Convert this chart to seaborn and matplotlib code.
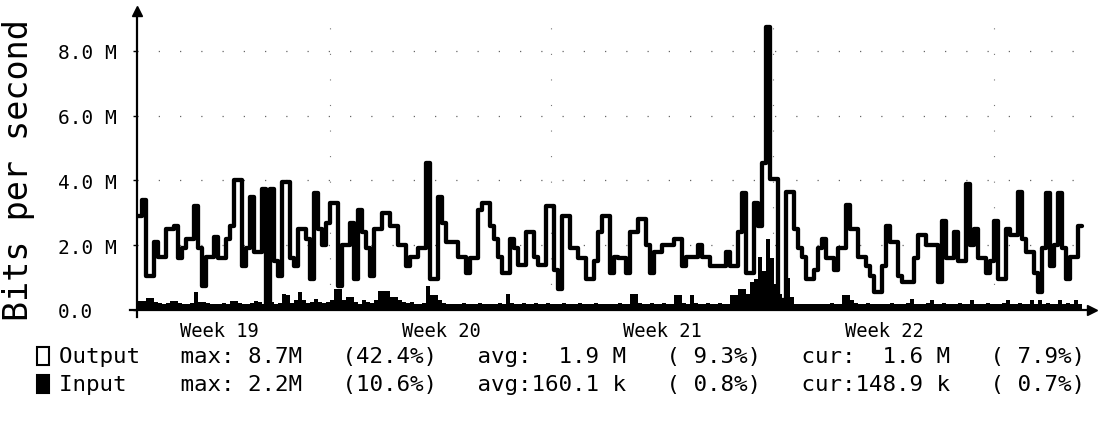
import numpy as np
import pandas as pd
import matplotlib
matplotlib.use("Agg")
import matplotlib.pyplot as plt
import seaborn as sns
from matplotlib.patches import Rectangle

# ---------------- data (Mbit/s, one value per sample) ----------------
output_mbps = [
    2.9, 3.4, 1.05, 1.05, 2.1, 1.65, 1.65, 2.5, 2.5, 2.6,
    1.6, 1.9, 2.2, 2.2, 3.2, 1.9, 0.75, 1.65, 1.65, 2.25,
    1.6, 1.6, 2.2, 2.6, 4.0, 4.0, 1.35, 1.9, 3.5, 1.8,
    1.8, 3.75, 0.2, 3.75, 1.5, 1.05, 3.95, 3.95, 1.6, 1.35,
    2.5, 2.5, 2.2, 0.95, 3.6, 2.5, 2.0, 2.7, 3.3, 3.3,
    0.75, 2.0, 2.0, 2.7, 0.95, 3.1, 2.4, 1.9, 1.05, 2.5,
    2.5, 3.0, 3.0, 2.6, 2.6, 2.0, 2.0, 1.35, 1.65, 1.65,
    1.9, 1.9, 4.55, 0.95, 0.95, 3.5, 2.7, 2.1, 2.1, 2.1,
    1.65, 1.65, 1.15, 1.6, 1.6, 3.1, 3.3, 3.3, 2.6, 2.2,
    1.65, 1.15, 1.15, 2.2, 1.9, 1.4, 1.4, 2.4, 2.4, 1.65,
    1.4, 1.4, 3.2, 3.2, 1.25, 0.65, 2.9, 2.9, 1.9, 1.9,
    1.6, 1.6, 0.95, 0.95, 1.5, 2.4, 2.9, 2.9, 1.15, 1.65,
    1.6, 1.6, 1.15, 2.4, 2.4, 2.8, 2.8, 2.0, 1.15, 1.8,
    1.8, 2.0, 2.0, 2.0, 2.2, 2.2, 1.35, 1.65, 1.65, 1.65,
    2.0, 1.65, 1.65, 1.35, 1.35, 1.35, 1.35, 1.8, 1.35, 1.35,
    2.4, 3.6, 1.15, 1.15, 3.3, 2.6, 4.55, 8.75, 4.05, 4.05,
    0.3, 0.3, 3.65, 3.65, 2.5, 1.9, 1.65, 0.95, 0.95, 1.25,
    1.9, 2.2, 1.6, 1.6, 1.25, 1.9, 1.9, 3.25, 2.5, 2.5,
    1.65, 1.65, 1.35, 1.05, 0.55, 0.55, 1.35, 2.6, 2.1, 2.1,
    1.05, 0.85, 0.85, 0.85, 1.6, 2.3, 2.3, 2.0, 2.0, 2.0,
    0.85, 2.75, 1.6, 1.6, 2.4, 1.5, 1.5, 3.9, 2.0, 2.5,
    1.6, 1.6, 1.15, 1.5, 2.75, 0.95, 0.95, 2.5, 2.3, 2.3,
    3.65, 2.2, 1.8, 1.8, 1.15, 0.55, 1.9, 3.6, 1.35, 2.0,
    3.6, 1.9, 0.95, 1.65, 1.65, 2.6,
]

input_mbps = [
    0.28, 0.28, 0.37, 0.37, 0.25, 0.22, 0.2, 0.22, 0.28, 0.28,
    0.22, 0.2, 0.2, 0.22, 0.55, 0.25, 0.25, 0.22, 0.2, 0.2,
    0.2, 0.22, 0.2, 0.28, 0.28, 0.22, 0.2, 0.2, 0.22, 0.28,
    0.25, 0.2, 0.35, 0.25, 0.2, 0.22, 0.5, 0.45, 0.22, 0.3,
    0.55, 0.3, 0.22, 0.25, 0.35, 0.25, 0.22, 0.25, 0.3, 0.65,
    0.65, 0.3, 0.4, 0.4, 0.25, 0.2, 0.3, 0.25, 0.22, 0.3,
    0.6, 0.6, 0.6, 0.4, 0.4, 0.3, 0.25, 0.22, 0.25, 0.2,
    0.2, 0.22, 0.75, 0.45, 0.45, 0.3, 0.22, 0.2, 0.2, 0.2,
    0.2, 0.22, 0.2, 0.2, 0.2, 0.22, 0.2, 0.2, 0.2, 0.2,
    0.22, 0.2, 0.5, 0.22, 0.2, 0.2, 0.22, 0.2, 0.2, 0.22,
    0.2, 0.2, 0.22, 0.2, 0.2, 0.2, 0.22, 0.2, 0.2, 0.2,
    0.22, 0.2, 0.2, 0.2, 0.22, 0.2, 0.2, 0.2, 0.2, 0.2,
    0.22, 0.2, 0.2, 0.5, 0.5, 0.22, 0.2, 0.2, 0.22, 0.2,
    0.2, 0.22, 0.2, 0.2, 0.45, 0.45, 0.22, 0.2, 0.45, 0.22,
    0.2, 0.2, 0.22, 0.2, 0.2, 0.22, 0.2, 0.2, 0.45, 0.45,
    0.65, 0.65, 0.5, 0.85, 0.95, 1.65, 1.2, 2.2, 1.6, 0.8,
    0.5, 0.3, 1.0, 0.4, 0.2, 0.2, 0.2, 0.2, 0.2, 0.2,
    0.2, 0.2, 0.2, 0.22, 0.2, 0.2, 0.45, 0.45, 0.3, 0.22,
    0.2, 0.2, 0.22, 0.2, 0.2, 0.2, 0.2, 0.2, 0.22, 0.2,
    0.2, 0.2, 0.22, 0.35, 0.2, 0.2, 0.2, 0.22, 0.3, 0.2,
    0.2, 0.22, 0.2, 0.2, 0.2, 0.22, 0.2, 0.2, 0.3, 0.2,
    0.2, 0.2, 0.22, 0.2, 0.2, 0.2, 0.22, 0.3, 0.2, 0.2,
    0.22, 0.2, 0.2, 0.3, 0.2, 0.3, 0.2, 0.22, 0.2, 0.2,
    0.3, 0.2, 0.22, 0.2, 0.3, 0.2,
]

y_ticks = [0, 2, 4, 6, 8]
y_tick_labels = ["0.0", "2.0 M", "4.0 M", "6.0 M", "8.0 M"]
week_labels = ["Week 19", "Week 20", "Week 21", "Week 22"]
week_centers = [20.25, 75.75, 131.0, 186.5]      # sample index of label centre
week_bounds = [48.0, 103.25, 158.75, 214.0]      # dotted separators

legend_output = "Output   max: 8.7M   (42.4%)   avg:  1.9 M   ( 9.3%)   cur:  1.6 M   ( 7.9%)"
legend_input = "Input    max: 2.2M   (10.6%)   avg:160.1 k   ( 0.8%)   cur:148.9 k   ( 0.7%)"

# ---------------- figure ----------------
sns.set_theme(style="white")
plt.rcParams["font.family"] = ["DejaVu Sans Mono"]

W, H = 1104, 435
fig = plt.figure(figsize=(W / 100, H / 100), dpi=100)
fig.patch.set_facecolor("white")
left, right, bottom, top = 137, 1092, 311, 12
ax = fig.add_axes([left / W, 1 - bottom / H, (right - left) / W, (bottom - top) / H])
ax.set_facecolor("white")

n = len(output_mbps)
df = pd.DataFrame({
    "sample": np.arange(n + 1),
    "output": output_mbps + [output_mbps[-1]],
    "input": input_mbps + [input_mbps[-1]],
})

ax.fill_between(df["sample"], 0, df["input"], step="post", color="black", lw=0, zorder=2)
sns.lineplot(data=df, x="sample", y="output", drawstyle="steps-post",
             color="black", lw=3.1, ax=ax, zorder=3)

ax.set_xlim(-0.25, 238.5)
ax.set_ylim(0, 9.23)

# grid: sparse dotted
for yv in y_ticks[1:]:
    ax.axhline(yv, color="#666666", lw=0.9, ls=(0, (1, 16)), zorder=1)
for xv in week_bounds:
    ax.axvline(xv, color="#777777", lw=0.8, ls=(0, (1, 22)), zorder=1)

ax.set_yticks(y_ticks)
ax.set_yticklabels(y_tick_labels, fontsize=14)
for lbl in ax.get_yticklabels():
    lbl.set_horizontalalignment("left")
ax.set_xticks(week_centers)
ax.set_xticklabels(week_labels, fontsize=13.5)
ax.tick_params(axis="y", length=3, width=1, colors="black", pad=54, left=True)
ax.tick_params(axis="x", length=0, pad=8, colors="black")
ax.set_xlabel("")
ax.set_ylabel("")

for s in ["top", "right"]:
    ax.spines[s].set_visible(False)
for s in ["left", "bottom"]:
    ax.spines[s].set_color("black")
    ax.spines[s].set_linewidth(1.6)
ax.spines["left"].set_bounds(-0.22, 9.23)
ax.spines["bottom"].set_bounds(-2.0, 238.5)

# axis arrows
ax.plot([0], [1], marker="^", color="black", markersize=7, transform=ax.transAxes, clip_on=False, zorder=5)
ax.plot([1], [0], marker=">", color="black", markersize=7, transform=ax.transAxes, clip_on=False, zorder=5)

# y label
fig.text(19 / W, 1 - 170 / H, "Bits per second", rotation=90, fontsize=24,
         ha="center", va="center", color="black")

# legend rows
for row_y, txt, filled in [(357, legend_output, False), (385, legend_input, True)]:
    fig.patches.append(Rectangle((37 / W, 1 - (row_y + 9) / H), 12 / W, 18 / H,
                                 transform=fig.transFigure, facecolor="black" if filled else "white",
                                 edgecolor="black", lw=1.5))
    fig.text(59 / W, 1 - row_y / H, txt, fontsize=16.2, ha="left", va="center", color="black")

fig.savefig("out.png", dpi=100, facecolor="white")
